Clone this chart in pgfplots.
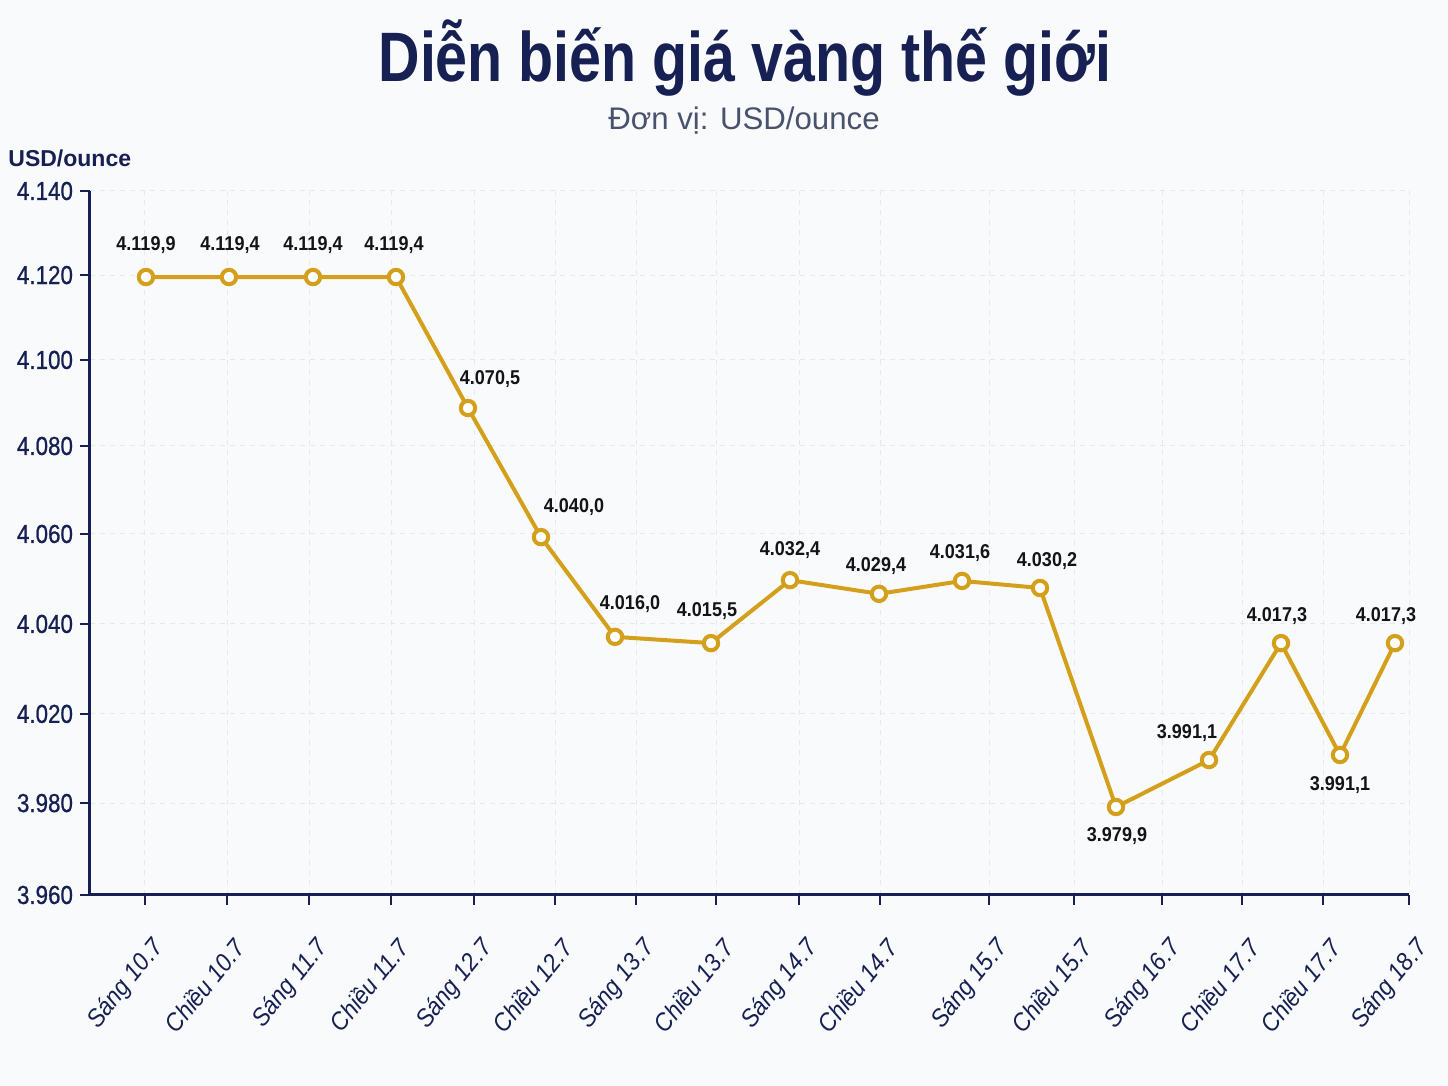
\documentclass[border=0pt]{standalone}
\usepackage{pgfplots}
\pgfplotsset{compat=1.18}
\usepackage{fontspec}
\setmainfont{Liberation Sans}
\newfontfamily\narrowfont[FakeStretch=0.92]{Liberation Sans}
\newfontfamily\tickfont[FakeStretch=0.86, FakeBold=0.8]{Liberation Sans}
\newfontfamily\labfont[FakeStretch=0.9]{Liberation Sans}
\newfontfamily\titlefont[FakeStretch=0.82]{Liberation Sans}
\definecolor{navy}{RGB}{22,32,82}
\definecolor{gold}{RGB}{212,160,28}
\definecolor{bgc}{RGB}{249,250,252}
\definecolor{gridc}{RGB}{230,232,238}
\definecolor{subc}{RGB}{72,82,108}
\definecolor{labc}{RGB}{20,20,24}
\begin{document}
\begin{tikzpicture}
\fill[bgc] (0pt,0pt) rectangle (724pt,543pt);
\node[text=navy, font=\titlefont\bfseries\fontsize{35}{40}\selectfont] at (372.5pt,514pt) {Diễn biến giá vàng thế giới};
\node[text=subc, font=\fontsize{15.6}{18}\selectfont] at (372pt,482.5pt) {Đơn vị: USD/ounce};
\node[text=navy, font=\bfseries\fontsize{11.5}{13}\selectfont, anchor=west, inner sep=0pt] at (4pt,464pt) {USD/ounce};
\begin{axis}[
  at={(45pt,95.5pt)}, anchor=south west,
  scale only axis, width=659.5pt, height=352pt,
  xmin=90, xmax=1409, ymin=3960, ymax=4140,
  clip=false,
  axis lines=left,
  axis line style={navy, line width=1.5pt, -},
  tick align=outside,
  major tick length=5pt,
  tick style={navy, line width=1pt},
  grid=major,
  major grid style={gridc, line width=0.5pt, dash pattern=on 2.5pt off 2.5pt},
  xtick={145,227,309,391,474,555,636,716,799,880,989,1074,1162,1242,1323,1409},
  xticklabels={Sáng 10.7, Chiều 10.7, Sáng 11.7, Chiều 11.7, Sáng 12.7, Chiều 12.7, Sáng 13.7, Chiều 13.7, Sáng 14.7, Chiều 14.7, Sáng 15.7, Chiều 15.7, Sáng 16.7, Chiều 17.7, Chiều 17.7, Sáng 18.7},
  xticklabel shift=13pt,
  xticklabel style={rotate=51, anchor=north east, xshift=3pt, text=navy, font=\narrowfont\itshape\fontsize{12.5}{14}\selectfont},
  ytick={3960,3983.5,4006.3,4029.3,4052.3,4074.8,4096.8,4118.5,4140},
  yticklabels={3.960,3.980,4.020,4.040,4.060,4.080,4.100,4.120,4.140},
  yticklabel style={text=navy, font=\tickfont\fontsize{13}{15}\selectfont},
]
\addplot[color=gold, line width=2pt, mark=*, mark size=3.6pt,
  mark options={fill=white, draw=gold, line width=2pt}] table {
x y
146 4118.0
229 4118.0
313 4118.0
396 4118.0
468 4084.5
541 4051.5
615 4026.0
711 4024.4
790 4040.5
879 4037.0
962 4040.3
1040 4038.5
1116 3982.5
1209 3994.5
1281 4024.4
1340 3995.8
1395 4024.4
};
\addplot[draw=none, mark=none, nodes near coords, point meta=explicit symbolic,
  nodes near coords align={center},
  nodes near coords style={anchor=center, text=labc, font=\labfont\bfseries\fontsize{10}{12}\selectfont}]
  table[meta=lab] {
x y lab
146 4126.2 4.119,9
230 4126.2 4.119,4
313 4126.2 4.119,4
394 4126.2 4.119,4
490 4091.9 4.070,5
574 4059.2 4.040,0
630 4034.4 4.016,0
707 4032.6 4.015,5
790 4048.2 4.032,4
876 4044.1 4.029,4
960 4047.4 4.031,6
1047 4045.4 4.030,2
1117 3975.1 3.979,9
1187 4001.4 3.991,1
1277 4031.3 4.017,3
1340 3988.1 3.991,1
1386 4031.3 4.017,3
};
\end{axis}
\end{tikzpicture}
\end{document}
